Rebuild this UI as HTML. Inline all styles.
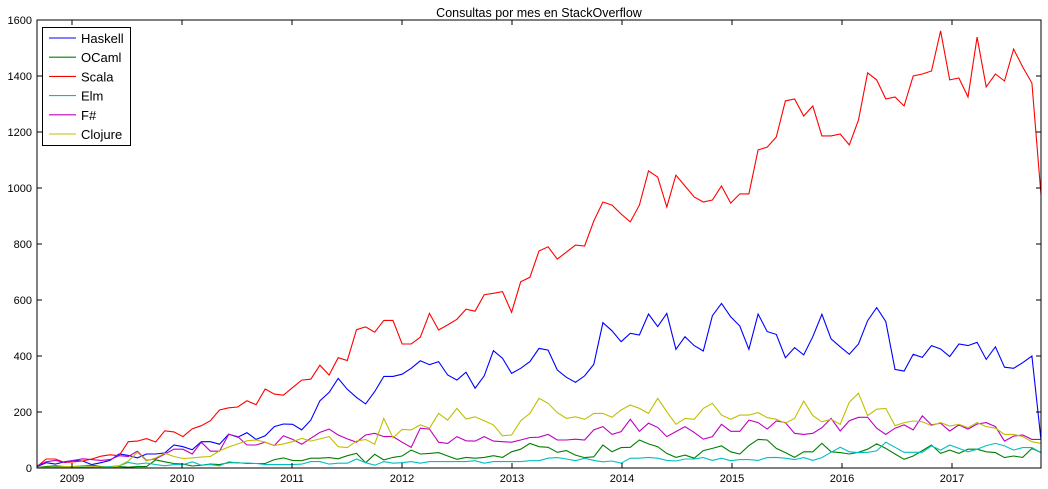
<!DOCTYPE html>
<html><head><meta charset="utf-8"><style>
body{margin:0;background:#fff;}
svg{display:block;font-family:"Liberation Sans","DejaVu Sans",sans-serif;}
</style></head><body>
<svg id="chart" width="1048" height="489"></svg>
<script>
const haskell=[5,19,14,22,27,25,12,19,27,50,45,36,50,50,54,82,76,65,94,94,85,121,110,126,102,115,148,157,156,136,171,240,270,320,281,252,229,273,327,327,335,356,383,369,380,332,314,342,285,329,419,392,338,356,380,427,421,350,324,306,329,370,519,490,451,481,475,550,505,552,424,469,437,418,544,588,540,507,424,550,487,477,394,430,404,469,549,461,433,406,443,526,573,523,352,346,406,395,437,425,398,443,437,449,388,433,360,356,376,400,100];
const ocaml=[2,5,8,5,5,8,10,5,3,5,3,5,5,29,22,16,14,7,10,14,12,19,19,16,16,16,30,36,27,26,35,35,37,33,44,52,19,49,29,38,43,64,50,52,55,43,31,38,35,38,44,38,58,67,88,76,74,56,62,46,37,40,82,58,73,74,100,86,76,52,38,46,35,62,70,79,58,50,80,102,100,70,55,38,58,58,88,58,55,50,56,67,86,70,50,31,43,62,82,52,64,52,67,67,58,55,37,43,38,70,55];
const scala=[5,32,32,20,22,25,32,42,47,44,94,96,105,93,133,129,112,140,151,169,207,215,218,240,226,282,264,260,287,314,317,367,332,394,384,494,504,485,527,527,443,443,467,552,493,511,531,567,560,619,624,630,556,665,681,775,790,746,771,796,793,882,950,939,907,879,939,1061,1039,932,1046,1007,968,950,957,1007,946,979,979,1136,1146,1182,1311,1318,1257,1293,1186,1186,1193,1154,1243,1411,1386,1318,1325,1293,1400,1407,1418,1561,1386,1393,1325,1539,1361,1407,1382,1496,1432,1375,975];
const elm=[0,0,2,3,3,3,3,3,5,8,20,14,18,12,8,12,12,22,10,12,8,22,18,18,16,12,12,12,12,14,23,23,14,17,17,32,19,10,23,17,19,23,17,23,23,23,23,23,26,17,23,23,23,23,26,26,35,37,32,26,35,27,22,25,17,35,35,38,35,27,25,32,32,37,27,35,26,30,30,27,37,38,35,30,37,27,37,56,74,58,55,56,61,92,74,56,56,56,79,64,82,70,58,67,80,88,79,64,73,73,55];
const fsharp=[8,22,27,20,27,33,30,27,30,44,41,60,27,33,50,67,67,50,92,60,60,120,112,82,82,92,80,115,102,85,106,127,139,118,104,92,118,124,112,112,92,74,142,139,92,88,112,97,96,112,96,94,92,100,109,110,120,100,100,103,100,136,148,120,130,174,131,160,145,112,130,148,127,103,112,156,131,131,171,162,139,168,162,124,120,124,144,177,132,169,181,181,142,120,142,154,136,186,154,160,132,154,139,157,162,148,96,114,118,102,102];
const clojure=[2,2,3,5,5,8,6,3,2,8,25,56,25,36,53,41,34,36,39,41,61,75,86,97,100,92,80,86,94,106,96,104,112,76,73,96,102,85,177,108,138,136,154,142,195,171,213,175,183,169,154,115,118,169,195,249,231,198,177,183,174,195,195,181,207,225,213,195,249,201,156,177,174,213,231,189,174,189,189,198,180,174,160,177,239,187,165,174,156,235,267,187,210,213,151,162,168,165,151,162,150,156,144,162,148,142,120,120,112,94,88];
const seriesNames=["Haskell","OCaml","Scala","Elm","F#","Clojure"];
const yTicks=[0,200,400,600,800,1000,1200,1400,1600];
const xYears=[2009,2010,2011,2012,2013,2014,2015,2016,2017];

const L=37,R=1041,T=20,B=468,svg=document.getElementById('chart');
const NS='http://www.w3.org/2000/svg';
const N=scala.length, pxPerMonth=(R-L)/(N-1);
const xi=i=>L+i*pxPerMonth;
const xYear=y=>72+(y-2009)*110;
const yv=v=>B-v*(B-T)/1600;
function mk(tag,attrs,parent){const e=document.createElementNS(NS,tag);for(const k in attrs)e.setAttribute(k,attrs[k]);(parent||svg).appendChild(e);return e;}

let t=mk('text',{x:(L+R)/2,y:17,'text-anchor':'middle','font-size':'12.5'});
t.textContent='Consultas por mes en StackOverflow';



const defs=mk('defs',{});const cp=mk('clipPath',{id:'cp'},defs);mk('rect',{x:L,y:T,width:R-L,height:B-T},cp);

const data=[haskell,ocaml,scala,elm,fsharp,clojure];
const colors=['#0000ff','#008000','#ff0000','#00bfbf','#bf00bf','#bfbf00'];
const g=mk('g',{'clip-path':'url(#cp)'});
data.forEach((d,s)=>{
  const p=mk('polyline',{points:d.map((v,i)=>xi(i).toFixed(1)+','+yv(v).toFixed(1)).join(' '),fill:'none',stroke:colors[s],'stroke-width':'1.1'},g);
  
  
});

const frame=mk('rect',{x:L,y:T,width:R-L,height:B-T,fill:'none',stroke:'#000','stroke-width':'1'});



yTicks.forEach(v=>{
  const y=yv(v);
  mk('line',{x1:L,x2:L+5,y1:y,y2:y,stroke:'#000'});
  mk('line',{x1:R-5,x2:R,y1:y,y2:y,stroke:'#000'});
  const l=mk('text',{x:L-5,y:y+4,'text-anchor':'end','font-size':'11'});
  l.textContent=v;
  
  
});
xYears.forEach(yr=>{
  const x=xYear(yr);
  mk('line',{x1:x,x2:x,y1:B,y2:B-5,stroke:'#000'});
  mk('line',{x1:x,x2:x,y1:T,y2:T+5,stroke:'#000'});
  const l=mk('text',{x:x,y:B+14,'text-anchor':'middle','font-size':'11'});
  l.textContent=yr;
  
  
});

const lg=mk('g',{});


mk('rect',{x:42.5,y:27.5,width:88,height:118,fill:'#fff',stroke:'#000'},lg);
seriesNames.forEach((n,s)=>{
  const y=38+s*19.2;
  const e=mk('g',{},lg);
  
  
  mk('line',{x1:49,x2:76,y1:y,y2:y,stroke:colors[s],'stroke-width':'1.1'},e);
  const tx=mk('text',{x:81,y:y+5,'font-size':'13'},e);
  tx.textContent=n;
});
</script>
</body></html>
